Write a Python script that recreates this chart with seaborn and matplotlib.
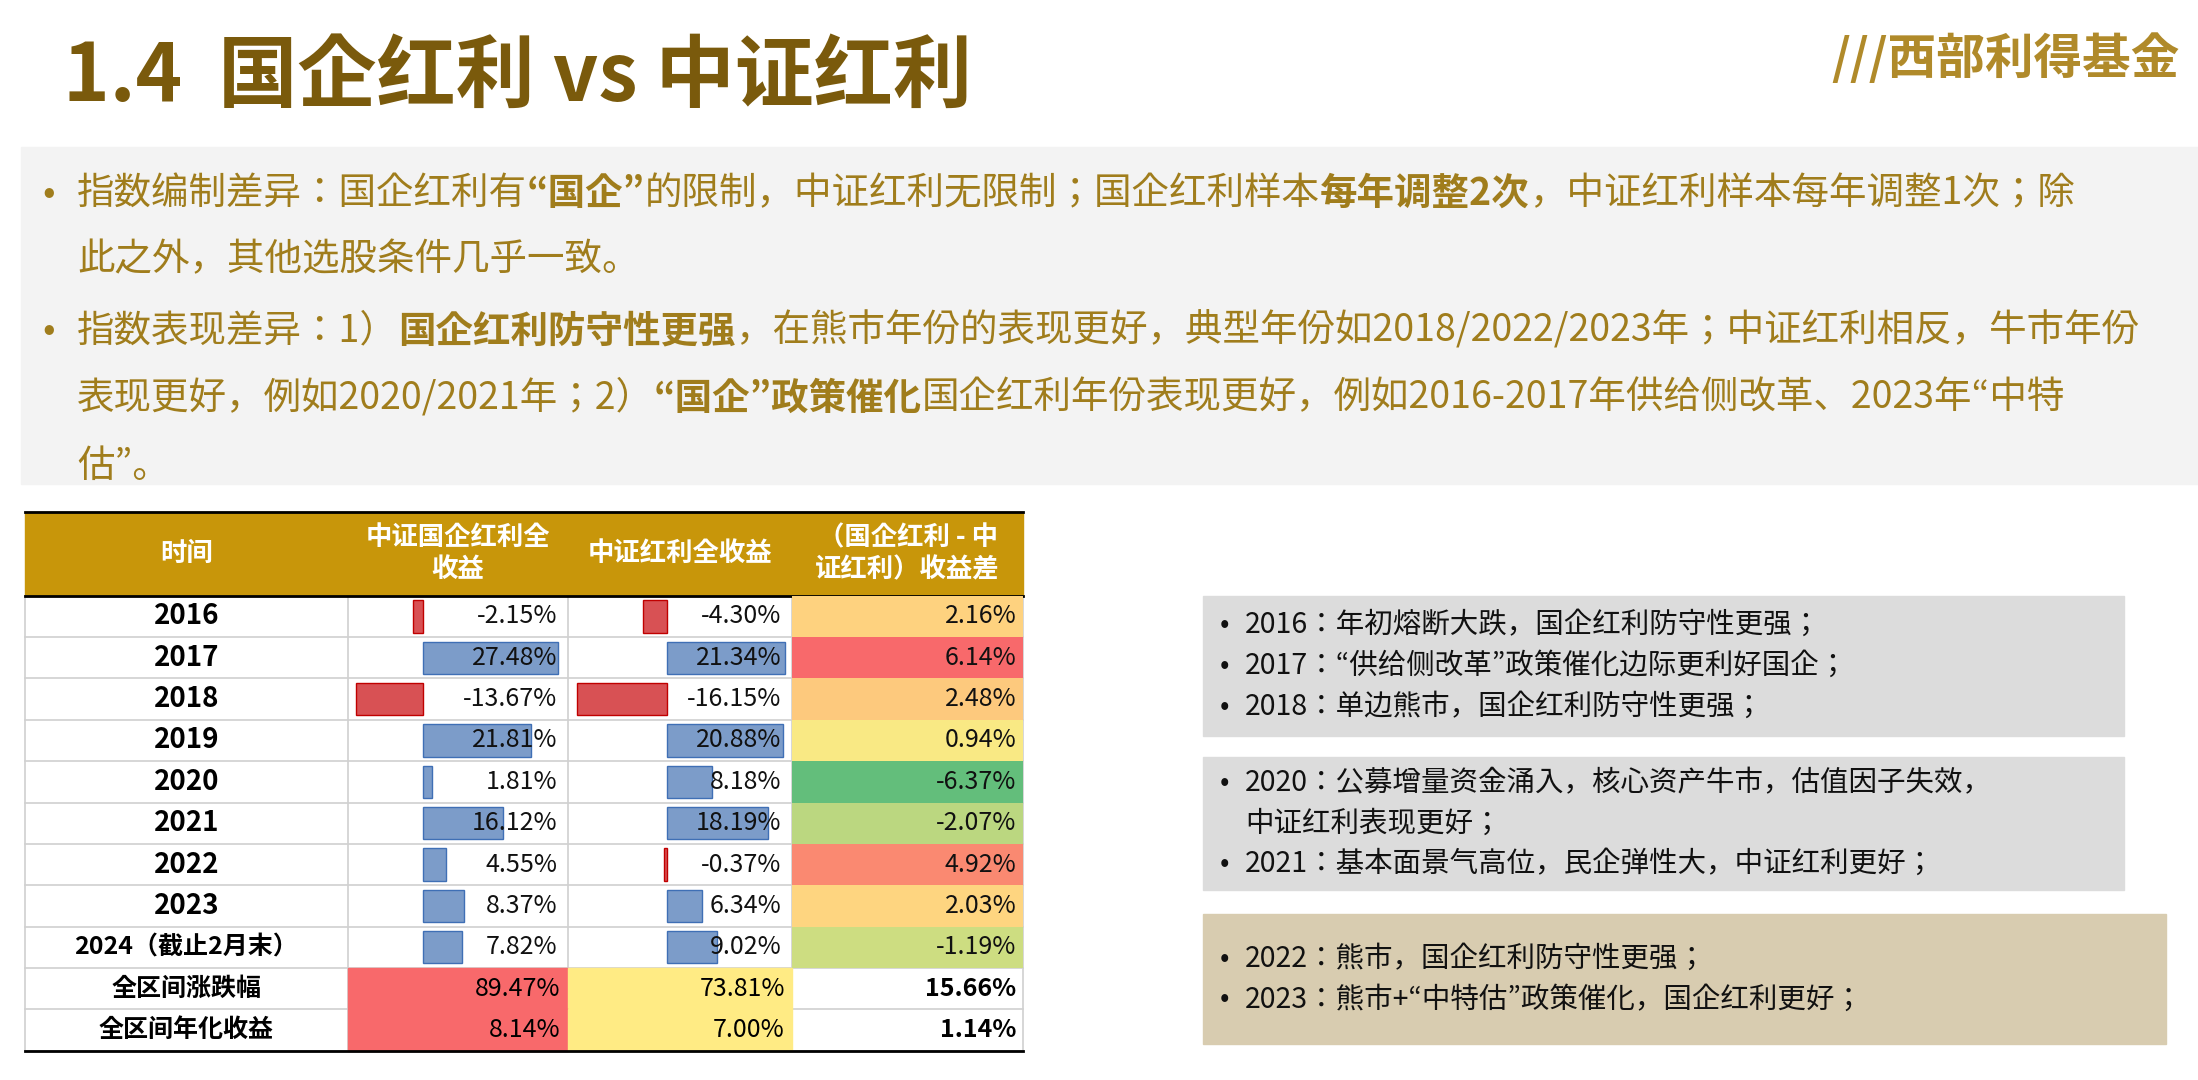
import numpy as np
import pandas as pd
import seaborn as sns
import matplotlib.pyplot as plt
from matplotlib import font_manager
from matplotlib.colors import LinearSegmentedColormap, TwoSlopeNorm
from matplotlib.patches import Rectangle

names = {f.name for f in font_manager.fontManager.ttflist}
cjk = [n for n in ['Noto Sans CJK SC', 'Noto Sans CJK JP', 'Noto Sans CJK TC'] if n in names]
plt.rcParams['font.family'] = 'sans-serif'
plt.rcParams['font.sans-serif'] = cjk + ['DejaVu Sans']

# data
years = ['2016', '2017', '2018', '2019', '2020', '2021', '2022', '2023', '2024（截止2月末）']
soe_div = [-2.15, 27.48, -13.67, 21.81, 1.81, 16.12, 4.55, 8.37, 7.82]
csi_div = [-4.30, 21.34, -16.15, 20.88, 8.18, 18.19, -0.37, 6.34, 9.02]
spread = [2.16, 6.14, 2.48, 0.94, -6.37, -2.07, 4.92, 2.03, -1.19]
summary_labels = ['全区间涨跌幅', '全区间年化收益']
summary_soe = [89.47, 8.14]
summary_csi = [73.81, 7.00]
summary_spread = [15.66, 1.14]
headers = ['时间', '中证国企红利全\n收益', '中证红利全收益', '（国企红利 - 中\n证红利）收益差']

W, H = 2198, 1080
S = W / 1568  # reference layout measured on a 1568-wide view
fig = plt.figure(figsize=(W / 100, H / 100), dpi=100)
bg = fig.add_axes([0, 0, 1, 1])
bg.set_xlim(0, W)
bg.set_ylim(H, 0)
bg.axis('off')

txt_gold = '#a07d1c'

# title and logo
bg.text(45 * S, 55 * S, '1.4  国企红利 vs 中证红利', fontsize=57, fontweight='bold',
        color='#7a5a0c', va='center', ha='left')
bg.text(1555 * S, 42 * S, '///西部利得基金', fontsize=35, fontweight='bold', fontstyle='italic',
        color='#b08a2a', va='center', ha='right')

# bullet box
bg.add_patch(Rectangle((15 * S, 105 * S), 1553 * S, 240 * S, color='#f3f3f3', zorder=0))

fig.canvas.draw()
rend = fig.canvas.get_renderer()


def runs(x, y, parts, size=27):
    for s, bold in parts:
        t = bg.text(x, y, s, fontsize=size, color=txt_gold, va='center', ha='left',
                    fontweight='bold' if bold else 'normal')
        x += t.get_window_extent(rend).width


lines = [
    (55, 138, [('指数编制差异：国企红利有', 0), ('“国企”', 1), ('的限制，中证红利无限制；国企红利样本', 0),
               ('每年调整2次', 1), ('，中证红利样本每年调整1次；除', 0)]),
    (55, 185, [('此之外，其他选股条件几乎一致。', 0)]),
    (55, 236, [('指数表现差异：1）', 0), ('国企红利防守性更强', 1),
               ('，在熊市年份的表现更好，典型年份如2018/2022/2023年；中证红利相反，牛市年份', 0)]),
    (55, 284, [('表现更好，例如2020/2021年；2）', 0), ('“国企”政策催化', 1),
               ('国企红利年份表现更好，例如2016-2017年供给侧改革、2023年“中特', 0)]),
    (55, 333, [('估”。', 0)]),
]
for x, y, parts in lines:
    runs(x * S, y * S, parts)
for y in (138, 236):
    bg.text(30 * S, y * S, '•', fontsize=27, color=txt_gold, va='center')

# table geometry (reference px)
cols = [18, 248, 405, 565, 730]
top, head_h, row_h = 365, 60, 29.5
bg.add_patch(Rectangle((cols[0] * S, top * S), (cols[-1] - cols[0]) * S, head_h * S,
                       color='#c8960a', zorder=1))
bg.plot([cols[0] * S, cols[-1] * S], [top * S] * 2, color='black', lw=2)
bg.plot([cols[0] * S, cols[-1] * S], [(top + head_h) * S] * 2, color='black', lw=2)
for i, h in enumerate(headers):
    bg.text((cols[i] + cols[i + 1]) / 2 * S, (top + head_h / 2) * S, h, fontsize=19,
            fontweight='bold', color='white', ha='center', va='center', linespacing=1.25)

body_top = top + head_h
n = len(years) + len(summary_labels)
bg.add_patch(Rectangle((cols[0] * S, body_top * S), (cols[-1] - cols[0]) * S, n * row_h * S,
                       color='white', zorder=0.5))
for r in range(n + 1):
    yy = (body_top + r * row_h) * S
    bg.plot([cols[0] * S, cols[-1] * S], [yy, yy], color='#d0d0d0', lw=1.2, zorder=0.6)
for c in cols:
    bg.plot([c * S, c * S], [body_top * S, (body_top + n * row_h) * S], color='#d0d0d0', lw=1.2, zorder=0.6)


def bar_col(ci, vals, lo, hi):
    x0, x1 = cols[ci] + 3, cols[ci + 1] - 3
    ax = fig.add_axes([x0 * S / W, 1 - (body_top + len(years) * row_h) * S / H,
                       (x1 - x0) * S / W, len(years) * row_h * S / H])
    df = pd.DataFrame({'year': years, 'v': vals})
    pal = {y: ('#ee3b3e' if v < 0 else '#6f9ad6') for y, v in zip(years, vals)}
    sns.barplot(data=df, x='v', y='year', hue='year', palette=pal, orient='h', ax=ax,
                legend=False, width=0.78, linewidth=1)
    for p, v in zip(ax.patches, vals):
        p.set_edgecolor('#c00000' if v < 0 else '#3f6fb5')
    ax.set_xlim(lo, hi)
    ax.set_ylim(len(years) - 0.5, -0.5)
    ax.axis('off')
    ax.patch.set_alpha(0)
    for i, v in enumerate(vals):
        ax.text(0.97, 1 - (i + 0.5) / len(years), f'{v:.2f}%', transform=ax.transAxes,
                ha='right', va='center', fontsize=18, color='#111111')


bar_col(1, soe_div, -14.5, 28.5)
bar_col(2, csi_div, -17.0, 21.8)

# spread column as heatmap
x0, x1 = cols[3], cols[4]
hax = fig.add_axes([x0 * S / W, 1 - (body_top + len(years) * row_h) * S / H,
                    (x1 - x0) * S / W, len(years) * row_h * S / H])
cmap = LinearSegmentedColormap.from_list('rg', ['#63be7b', '#ffeb84', '#f8696b'])
sns.heatmap(np.array(spread).reshape(-1, 1), cmap=cmap,
            norm=TwoSlopeNorm(vcenter=1.2, vmin=min(spread), vmax=max(spread)),
            cbar=False, ax=hax, xticklabels=False, yticklabels=False)
hax.axis('off')
for i, v in enumerate(spread):
    hax.text(0.97, 1 - (i + 0.5) / len(years), f'{v:.2f}%', transform=hax.transAxes,
             ha='right', va='center', fontsize=18, color='#111111')

for i, y in enumerate(years):
    bg.text((cols[0] + cols[1]) / 2 * S, (body_top + (i + 0.5) * row_h) * S, y,
            fontsize=20 if i < 8 else 18, fontweight='bold', ha='center', va='center')

# summary rows
for j, lab in enumerate(summary_labels):
    yc = body_top + (len(years) + j + 0.5) * row_h
    yt = body_top + (len(years) + j) * row_h
    bg.add_patch(Rectangle((cols[1] * S, yt * S), (cols[2] - cols[1]) * S, row_h * S, color='#f8696b', zorder=0.7))
    bg.add_patch(Rectangle((cols[2] * S, yt * S), (cols[3] - cols[2]) * S, row_h * S, color='#ffeb84', zorder=0.7))
    bg.text((cols[0] + cols[1]) / 2 * S, yc * S, lab, fontsize=18, fontweight='bold', ha='center', va='center')
    bg.text((cols[2] - 5) * S, yc * S, f'{summary_soe[j]:.2f}%', fontsize=18, ha='right', va='center')
    bg.text((cols[3] - 5) * S, yc * S, f'{summary_csi[j]:.2f}%', fontsize=18, ha='right', va='center')
    bg.text((cols[4] - 5) * S, yc * S, f'{summary_spread[j]:.2f}%', fontsize=18, fontweight='bold',
            ha='right', va='center')
bg.plot([cols[0] * S, cols[-1] * S], [(body_top + n * row_h) * S] * 2, color='black', lw=2)

# commentary boxes
boxes = [
    (858, 425, 657, 100, '#dcdcdc', ['2016：年初熔断大跌，国企红利防守性更强；',
                                     '2017：“供给侧改革”政策催化边际更利好国企；',
                                     '2018：单边熊市，国企红利防守性更强；']),
    (858, 540, 657, 95, '#dcdcdc', ['2020：公募增量资金涌入，核心资产牛市，估值因子失效，',
                                    '  中证红利表现更好；',
                                    '2021：基本面景气高位，民企弹性大，中证红利更好；']),
    (858, 652, 687, 93, '#d8ccb0', ['2022：熊市，国企红利防守性更强；',
                                    '2023：熊市+“中特估”政策催化，国企红利更好；']),
]
for bx, by, bw, bh, col, items in boxes:
    bg.add_patch(Rectangle((bx * S, by * S), bw * S, bh * S, color=col, zorder=0.5))
    step = 29
    y0 = by + (bh - step * (len(items) - 1)) / 2
    for k, it in enumerate(items):
        yy = (y0 + k * step) * S
        if not it.startswith('  '):
            bg.text((bx + 12) * S, yy, '•', fontsize=20, va='center', color='#111111')
        bg.text((bx + 30) * S, yy, it.strip(), fontsize=20.5, va='center', color='#111111')

fig.savefig('out.png', dpi=100)
